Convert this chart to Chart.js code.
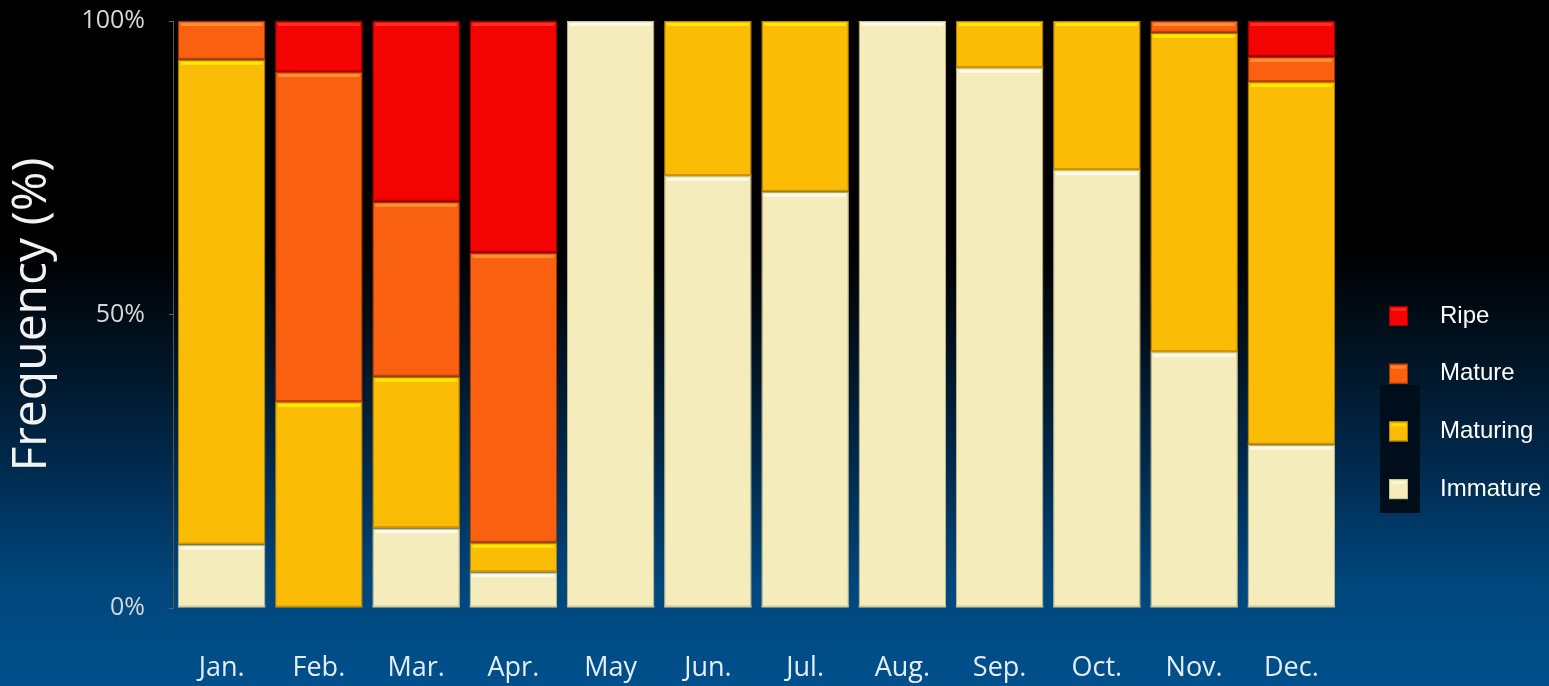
<!DOCTYPE html>
<html>
<head>
<meta charset="utf-8">
<script src="https://cdn.jsdelivr.net/npm/chart.js@4/dist/chart.umd.min.js"></script>
<style>
    html, body { margin: 0; padding: 0; }
    body {
        width: 1549px; height: 686px; overflow: hidden;
        background: linear-gradient(to bottom, #000 0%, #000 36%, #01111f 50%, #002a4d 68%, #00467c 85%, #00508c 100%);
    }
    #wrap { position: relative; width: 1549px; height: 686px; }
</style>
</head>
<body>
<div id="wrap"><canvas id="maturity-chart" width="1549" height="686"></canvas></div>
<script>
// monthly share of each maturity stage (%)
var months = ['Jan.', 'Feb.', 'Mar.', 'Apr.', 'May', 'Jun.', 'Jul.', 'Aug.', 'Sep.', 'Oct.', 'Nov.', 'Dec.'];
var immature = [10.8, 0, 13.6, 6.1, 100, 73.6, 70.9, 100, 92.0, 74.6, 43.6, 27.8];
var maturing = [82.6, 35.1, 25.8, 5.0, 0, 26.4, 29.1, 0, 8.0, 25.4, 54.4, 61.8];
var mature = [6.6, 56.2, 29.8, 49.4, 0, 0, 0, 0, 0, 0, 2.0, 4.3];
var ripe = [0, 8.7, 30.8, 39.5, 0, 0, 0, 0, 0, 0, 0, 6.1];
var yTicks = [0, 50, 100];

var stages = [
    { label: 'Immature', data: immature, color: '#f5ecbc', edge: '#c9bf8c', shine: '#fffdf0' },
    { label: 'Maturing', data: maturing, color: '#fbbc06', edge: '#b88400', shine: '#fff200' },
    { label: 'Mature', data: mature, color: '#f9600f', edge: '#a83400', shine: '#ff9a40' },
    { label: 'Ripe', data: ripe, color: '#f40303', edge: '#a00000', shine: '#ff3b2b' }
];

// little highlight on top of each stacked block, dark seam underneath
var bevelPlugin = {
    id: 'bevel',
    afterDatasetsDraw: function (chart) {
        var ctx = chart.ctx;
        chart.data.datasets.forEach(function (ds, i) {
            var meta = chart.getDatasetMeta(i);
            meta.data.forEach(function (bar) {
                var top = Math.min(bar.y, bar.base);
                var h = Math.abs(bar.base - bar.y);
                if (h < 3) return;
                var left = bar.x - bar.width / 2;
                ctx.save();
                ctx.fillStyle = ds.shine;
                ctx.globalAlpha = 0.85;
                ctx.fillRect(left + 3, top + 2, bar.width - 6, 3);
                ctx.globalAlpha = 0.7;
                ctx.fillStyle = ds.edge;
                ctx.fillRect(left, top + h - 2, bar.width, 2);
                ctx.restore();
            });
        });
    }
};

// legend at the right, Ripe on top
var sideLegend = {
    id: 'sideLegend',
    afterDraw: function (chart) {
        var ctx = chart.ctx;
        var order = chart.data.datasets.slice().reverse();
        var x0 = 1389, y0 = 316, step = 57.7;
        ctx.save();
        ctx.fillStyle = '#000e1b';
        ctx.fillRect(1380, 385, 40, 128);
        order.forEach(function (ds, i) {
            var y = y0 + i * step;
            ctx.fillStyle = ds.color;
            ctx.fillRect(x0, y - 10, 19, 20);
            ctx.strokeStyle = ds.edge;
            ctx.lineWidth = 1;
            ctx.strokeRect(x0 + 0.5, y - 9.5, 18, 19);
            ctx.fillStyle = ds.shine;
            ctx.globalAlpha = 0.6;
            ctx.fillRect(x0 + 2, y - 8, 15, 3);
            ctx.globalAlpha = 1;
            ctx.fillStyle = '#ffffff';
            ctx.font = '24px "Liberation Sans", Arial, sans-serif';
            ctx.textBaseline = 'middle';
            ctx.fillText(ds.label, 1440, y);
        });
        ctx.restore();
    }
};

var ctx = document.getElementById('maturity-chart').getContext('2d');
var myChart = new Chart(ctx, {
    type: 'bar',
    data: {
        labels: months,
        datasets: stages.map(function (s) {
            return {
                label: s.label,
                data: s.data,
                backgroundColor: s.color,
                borderColor: s.edge,
                borderWidth: 1,
                edge: s.edge,
                shine: s.shine,
                color: s.color,
                barPercentage: 0.9,
                categoryPercentage: 1.0
            };
        })
    },
    options: {
        responsive: false,
        animation: false,
        layout: { padding: { left: 2, right: 209, top: 21, bottom: 0 } },
        plugins: {
            legend: { display: false },
            tooltip: { enabled: false }
        },
        scales: {
            x: {
                stacked: true,
                grid: { display: false },
                border: { display: false },
                afterFit: function (axis) { axis.height = 78; },
                ticks: {
                    color: '#e6eef5',
                    font: { family: '"Open Sans", sans-serif', size: 27 },
                    padding: 36
                }
            },
            y: {
                stacked: true,
                min: 0,
                max: 100,
                afterBuildTicks: function (axis) {
                    axis.ticks = yTicks.map(function (v) { return { value: v }; });
                },
                afterFit: function (axis) {
                    axis.width = 171;
                    axis.paddingTop = 0;
                    axis.paddingBottom = 0;
                },
                grid: { drawOnChartArea: false, color: '#666', tickLength: 4 },
                border: { display: true, color: '#555', width: 1 },
                ticks: {
                    color: '#d8d8d8',
                    font: { family: '"Open Sans", sans-serif', size: 25 },
                    padding: 24,
                    callback: function (v) { return v + '%'; }
                },
                title: {
                    display: true,
                    text: 'Frequency (%)',
                    color: '#f2f2f2',
                    font: { family: '"Open Sans", sans-serif', size: 48 },
                    padding: { top: 2, bottom: 10 }
                }
            }
        }
    },
    plugins: [bevelPlugin, sideLegend]
});
</script>
</body>
</html>
